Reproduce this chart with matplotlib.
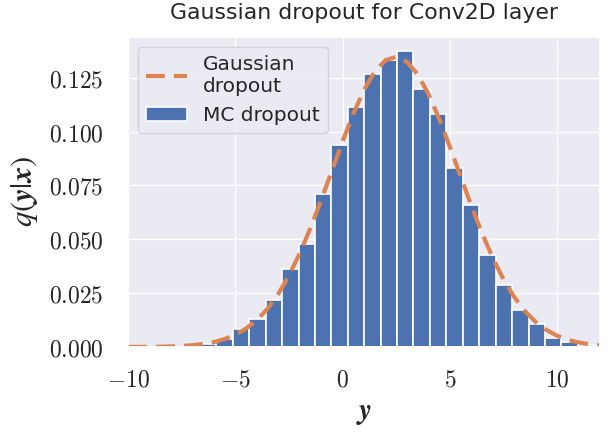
import matplotlib
matplotlib.use('Agg')
import matplotlib.pyplot as plt
import numpy as np
import seaborn as sns
from matplotlib.ticker import FuncFormatter

# histogram of MC dropout samples (bin edges and densities)
bin_edges = [-6.66, -5.89, -5.13, -4.36, -3.59, -2.83, -2.06, -1.30, -0.53,
             0.24, 1.00, 1.77, 2.54, 3.30, 4.07, 4.84, 5.60, 6.37, 7.13,
             7.90, 8.67, 9.43, 10.20, 10.97, 11.73]
mc_density = [0.0013, 0.0035, 0.0084, 0.0132, 0.0218, 0.0364, 0.0478, 0.0710,
              0.0937, 0.1115, 0.1266, 0.1332, 0.1372, 0.1200, 0.1084, 0.0829,
              0.0661, 0.0425, 0.0286, 0.0170, 0.0108, 0.0044, 0.0023, 0.0008]

# gaussian dropout density curve
curve_x = [-10, -9.5, -9, -8.5, -8, -7.5, -7, -6.5, -6, -5.5, -5, -4.5, -4,
           -3.5, -3, -2.5, -2, -1.5, -1, -0.5, 0, 0.5, 1, 1.5, 2, 2.5, 3,
           3.5, 4, 4.5, 5, 5.5, 6, 6.5, 7, 7.5, 8, 8.5, 9, 9.5, 10, 10.5,
           11, 11.5, 12]
curve_y = [0.00002, 0.00004, 0.00008, 0.00014, 0.00027, 0.00047, 0.00082,
           0.0014, 0.0023, 0.0037, 0.0057, 0.0086, 0.0125, 0.0178, 0.0247,
           0.0333, 0.0435, 0.0553, 0.0683, 0.0819, 0.0956, 0.1084, 0.1195,
           0.1279, 0.1332, 0.1347, 0.1324, 0.1265, 0.1174, 0.1060, 0.0929,
           0.0792, 0.0656, 0.0528, 0.0413, 0.0314, 0.0232, 0.0167, 0.0116,
           0.0079, 0.0052, 0.0033, 0.0021, 0.0013, 0.0007]

sns.set_theme(style='darkgrid')
plt.rcParams['font.family'] = ['DejaVu Sans']
plt.rcParams['mathtext.fontset'] = 'cm'

blue = '#4C72B0'
orange = '#DD8452'

fig = plt.figure(figsize=(6.1, 4.32), dpi=100)
ax = fig.add_axes([0.2103, 0.1968, 0.7733, 0.7182])

edges = np.array(bin_edges)
ax.bar(edges[:-1], mc_density, width=np.diff(edges), align='edge',
       color=blue, edgecolor='white', linewidth=1.2, label='MC dropout')
ax.plot(curve_x, curve_y, color=orange, lw=3, dashes=(4.5, 2.2),
        label='Gaussian\ndropout')

ax.set_xlim(-10, 12)
ax.set_xticks([-10, -5, 0, 5, 10])
ax.set_yticks([0, 0.025, 0.05, 0.075, 0.1, 0.125])
ax.xaxis.set_major_formatter(FuncFormatter(lambda v, p: f'${v:g}$'))
ax.yaxis.set_major_formatter(FuncFormatter(lambda v, p: f'${v:.3f}$'))
ax.tick_params(labelsize=17)
ax.tick_params(axis='y', pad=12)
ax.tick_params(axis='x', pad=9)

ax.set_xlabel(r'$\boldsymbol{y}$', fontsize=21, math_fontfamily='stix',
              labelpad=5)
ax.set_ylabel(r'$q(\boldsymbol{y}|\boldsymbol{x})$', fontsize=22,
              math_fontfamily='stix', labelpad=6)
ax.set_title('Gaussian dropout for Conv2D layer', fontsize=15.8, pad=13)

ax.legend(loc='upper left', fontsize=14.5)

fig.savefig('out.png', dpi=100)
